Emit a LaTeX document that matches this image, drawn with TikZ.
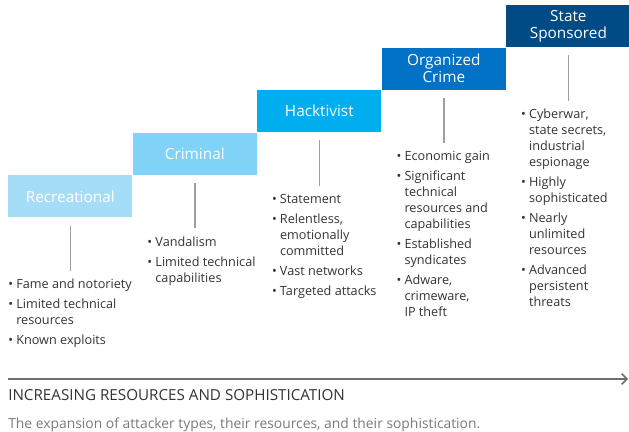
\documentclass[tikz,border=0pt]{standalone}
\usepackage{fontspec}
\setmainfont{Open Sans}
\usetikzlibrary{arrows.meta, positioning}
\definecolor{tierA}{HTML}{A6DDF6}
\definecolor{tierB}{HTML}{80D3F6}
\definecolor{tierC}{HTML}{00AEEF}
\definecolor{tierD}{HTML}{0071C5}
\definecolor{tierE}{HTML}{004A86}
\definecolor{ink}{HTML}{333333}
\definecolor{stemgray}{HTML}{9E9E9E}
\definecolor{axisgray}{HTML}{6E6E6E}
\definecolor{capgray}{HTML}{7A7A7A}
% bullet and continuation indent for the item lists
\newcommand{\bl}{\makebox[6pt][l]{\textbullet}}
\newcommand{\cont}{\hspace*{6pt}}
\tikzset{
  tier/.style={rectangle, text=white, minimum width=93pt, minimum height=31.5pt, inner sep=0pt, align=center, font=\fontsize{11.5}{12.75}\selectfont},
  items/.style={anchor=north west, inner sep=0pt, align=left, text=ink, font=\fontsize{9.5}{12}\selectfont},
  stem/.style={draw=stemgray, line width=1.1pt, shorten <=6pt, shorten >=6pt},
  axis/.style={draw=axisgray, line width=1.1pt, -{Straight Barb[length=4pt, width=8pt]}},
}

\begin{document}
\begin{tikzpicture}[x=0.75pt, y=-0.75pt]
  \useasboundingbox (0,0) rectangle (629,432);
  % the staircase of attacker types
  \node[tier, fill=tierA, anchor=north west] (rec) at (8,175) {Recreational};
  \node[tier, fill=tierB, anchor=south west] (crim) at (rec.north east) {Criminal};
  \node[tier, fill=tierC, anchor=south west] (hack) at (crim.north east) {Hacktivist};
  \node[tier, fill=tierD, anchor=south west] (org) at (hack.north east) {Organized\\Crime};
  \node[tier, fill=tierE, anchor=south west] (state) at (org.north east) {State\\Sponsored};
  % item lists under each step
  \node[items, below right=46pt and 0pt of rec.south west] (recl) {\bl Fame and notoriety\\[3pt]
    \bl Limited technical\\ \cont resources\\[3pt]
    \bl Known exploits};
  \node[items, below right=46pt and 11pt of crim.south west] (criml) {\bl Vandalism\\[3pt]
    \bl Limited technical\\ \cont capabilities};
  \node[items, below right=46pt and 11pt of hack.south west] (hackl) {\bl Statement\\[3pt]
    \bl Relentless,\\ \cont emotionally\\ \cont committed\\[3pt]
    \bl Vast networks\\[3pt]
    \bl Targeted attacks};
  \node[items, below right=46pt and 11pt of org.south west] (orgl) {\bl Economic gain\\[3pt]
    \bl Significant\\ \cont technical\\ \cont resources and\\ \cont capabilities\\[3pt]
    \bl Established\\ \cont syndicates\\[3pt]
    \bl Adware,\\ \cont crimeware,\\ \cont IP theft};
  \node[items, below right=46pt and 11pt of state.south west] (statel) {\bl Cyberwar,\\ \cont state secrets,\\ \cont industrial\\ \cont espionage\\[3pt]
    \bl Highly\\ \cont sophisticated\\[3pt]
    \bl Nearly\\ \cont unlimited\\ \cont resources\\[3pt]
    \bl Advanced\\ \cont persistent\\ \cont threats};
  % stems from each step down to its list
  \foreach \t in {rec, crim, hack, org, state}
    \draw[stem] (\t.south) -- (\t.south |- \t l.north);
  % axis along the bottom
  \coordinate (ax0) at (8,379);
  \coordinate (ax1) at (628,379);
  \draw[axis] (ax0) -- (ax1);
  \node[anchor=north west, inner sep=0pt, text=ink, font=\fontsize{11.4}{12}\selectfont] (axtitle) at (8,389) {INCREASING RESOURCES AND SOPHISTICATION};
  \node[anchor=north west, inner sep=0pt, text=capgray, font=\fontsize{10.4}{12}\selectfont] (caption) at (8,418) {The expansion of attacker types, their resources, and their sophistication.};
\end{tikzpicture}
\end{document}
